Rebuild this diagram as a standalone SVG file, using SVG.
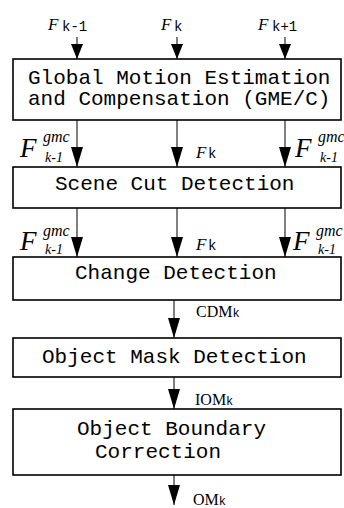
<svg xmlns="http://www.w3.org/2000/svg" width="344" height="508" viewBox="0 0 344 508">
<style>
.box{fill:#fff;stroke:#000;stroke-width:1.6}
.lbl{font-family:"Liberation Mono","DejaVu Sans Mono",monospace;font-size:21px;fill:#000}
.conn{stroke:#000;stroke-width:1;fill:none}
.big{marker-end:url(#ah)}
.small{marker-end:url(#ahs)}
.fi{font-family:"Liberation Serif","DejaVu Serif",serif;font-style:italic;fill:#000}
.sm{font-family:"Liberation Mono","DejaVu Sans Mono",monospace;fill:#000}
.rm{font-family:"Liberation Serif","DejaVu Serif",serif;fill:#000}
</style>
<defs>
<marker id="ah" markerUnits="userSpaceOnUse" markerWidth="20" markerHeight="12" refX="20" refY="6" orient="auto" viewBox="0 0 20 12">
<path d="M0,0 L20,6 L0,12 z" fill="#000"/>
</marker>
<marker id="ahs" markerUnits="userSpaceOnUse" markerWidth="15" markerHeight="12" refX="15" refY="6" orient="auto" viewBox="0 0 15 12">
<path d="M0,0 L15,6 L0,12 z" fill="#000"/>
</marker>
</defs>
<g id="connectors">
<line class="conn small" x1="77" y1="37" x2="77" y2="59"/>
<line class="conn small" x1="177" y1="37" x2="177" y2="59"/>
<line class="conn small" x1="285" y1="37" x2="285" y2="59"/>
<line class="conn big" x1="77" y1="120" x2="77" y2="167"/>
<line class="conn big" x1="177" y1="120" x2="177" y2="167"/>
<line class="conn big" x1="285" y1="120" x2="285" y2="167"/>
<line class="conn big" x1="77" y1="208" x2="77" y2="257"/>
<line class="conn big" x1="177" y1="208" x2="177" y2="257"/>
<line class="conn big" x1="285" y1="208" x2="285" y2="257"/>
<line class="conn big" x1="174" y1="300" x2="174" y2="338"/>
<line class="conn big" x1="174" y1="377" x2="174" y2="409"/>
<line class="conn big" x1="174" y1="475" x2="174" y2="505"/>
</g>
<g id="labels">
<text x="48" y="30" class="fi" font-size="17">F</text><text x="62" y="31" class="sm" font-size="14">k-1</text>
<text x="161" y="30" class="fi" font-size="17">F</text><text x="174" y="31" class="sm" font-size="14">k</text>
<text x="258" y="30" class="fi" font-size="17">F</text><text x="272" y="31" class="sm" font-size="14">k+1</text>

<text x="20" y="157" class="fi" font-size="27">F</text><text x="43" y="142" class="fi" font-size="16">gmc</text><text x="45" y="162" class="fi" font-size="14">k-1</text>
<text x="196" y="158" class="fi" font-size="17">F</text><text x="208" y="158" class="sm" font-size="14">k</text>
<text x="295" y="157" class="fi" font-size="27">F</text><text x="318" y="142" class="fi" font-size="16">gmc</text><text x="320" y="162" class="fi" font-size="14">k-1</text>

<text x="20" y="250" class="fi" font-size="27">F</text><text x="43" y="236" class="fi" font-size="16">gmc</text><text x="45" y="254" class="fi" font-size="14">k-1</text>
<text x="196" y="250" class="fi" font-size="17">F</text><text x="208" y="250" class="sm" font-size="14">k</text>
<text x="293" y="250" class="fi" font-size="27">F</text><text x="316" y="236" class="fi" font-size="16">gmc</text><text x="318" y="254" class="fi" font-size="14">k-1</text>

<text x="196" y="317" class="rm" font-size="16">CDM<tspan class="sm" font-size="12">k</tspan></text>
<text x="195" y="405" class="rm" font-size="16">IOM<tspan class="sm" font-size="12">k</tspan></text>
<text x="193" y="505" class="rm" font-size="16">OM<tspan class="sm" font-size="12">k</tspan></text>
</g>
<g id="gme">
<rect class="box" x="13" y="59" width="328" height="61"/>
<text class="lbl" x="28" y="84">Global Motion Estimation</text>
<text class="lbl" x="28" y="105">and Compensation (GME/C)</text>
</g>
<g id="scenecut">
<rect class="box" x="13" y="167" width="328" height="41"/>
<text class="lbl" x="55" y="190">Scene Cut Detection</text>
</g>
<g id="change">
<rect class="box" x="13" y="257" width="328" height="43"/>
<text class="lbl" x="75" y="279">Change Detection</text>
</g>
<g id="mask">
<rect class="box" x="13" y="338" width="328" height="39"/>
<text class="lbl" x="42" y="363">Object Mask Detection</text>
</g>
<g id="boundary">
<rect class="box" x="13" y="409" width="328" height="66"/>
<text class="lbl" x="77" y="435">Object Boundary</text>
<text class="lbl" x="95" y="458">Correction</text>
</g>
</svg>
